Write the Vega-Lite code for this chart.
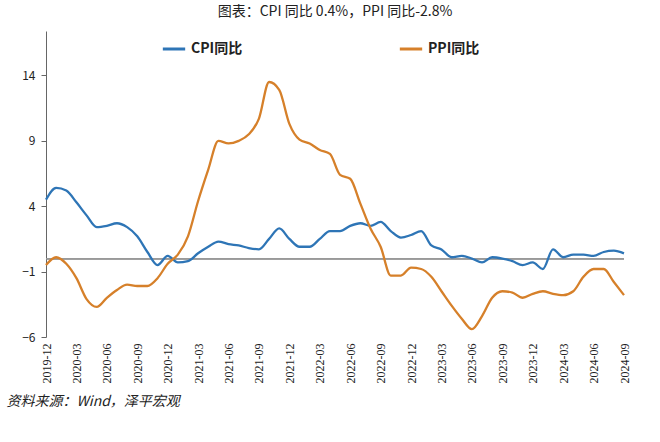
{
  "$schema": "https://vega.github.io/schema/vega-lite/v6.json",
  "width": 578,
  "height": 306,
  "padding": {"left": 6, "top": 5, "right": 20, "bottom": 5},
  "title": {"text": "图表：CPI 同比 0.4%，PPI 同比-2.8%", "font": "Noto Sans CJK SC", "fontSize": 14, "fontWeight": "normal", "color": "#222", "offset": 12},
  "config": {"view": {"stroke": null}, "font": "Noto Sans CJK SC"},
  "data": {"values": [
    {"m":"2019-12","CPI同比":4.5,"PPI同比":-0.5},
    {"m":"2020-01","CPI同比":5.4,"PPI同比":0.1},
    {"m":"2020-02","CPI同比":5.2,"PPI同比":-0.4},
    {"m":"2020-03","CPI同比":4.3,"PPI同比":-1.5},
    {"m":"2020-04","CPI同比":3.3,"PPI同比":-3.1},
    {"m":"2020-05","CPI同比":2.4,"PPI同比":-3.7},
    {"m":"2020-06","CPI同比":2.5,"PPI同比":-3.0},
    {"m":"2020-07","CPI同比":2.7,"PPI同比":-2.4},
    {"m":"2020-08","CPI同比":2.4,"PPI同比":-2.0},
    {"m":"2020-09","CPI同比":1.7,"PPI同比":-2.1},
    {"m":"2020-10","CPI同比":0.5,"PPI同比":-2.1},
    {"m":"2020-11","CPI同比":-0.5,"PPI同比":-1.5},
    {"m":"2020-12","CPI同比":0.2,"PPI同比":-0.4},
    {"m":"2021-01","CPI同比":-0.3,"PPI同比":0.3},
    {"m":"2021-02","CPI同比":-0.2,"PPI同比":1.7},
    {"m":"2021-03","CPI同比":0.4,"PPI同比":4.4},
    {"m":"2021-04","CPI同比":0.9,"PPI同比":6.8},
    {"m":"2021-05","CPI同比":1.3,"PPI同比":9.0},
    {"m":"2021-06","CPI同比":1.1,"PPI同比":8.8},
    {"m":"2021-07","CPI同比":1.0,"PPI同比":9.0},
    {"m":"2021-08","CPI同比":0.8,"PPI同比":9.5},
    {"m":"2021-09","CPI同比":0.7,"PPI同比":10.7},
    {"m":"2021-10","CPI同比":1.5,"PPI同比":13.5},
    {"m":"2021-11","CPI同比":2.3,"PPI同比":12.9},
    {"m":"2021-12","CPI同比":1.5,"PPI同比":10.3},
    {"m":"2022-01","CPI同比":0.9,"PPI同比":9.1},
    {"m":"2022-02","CPI同比":0.9,"PPI同比":8.8},
    {"m":"2022-03","CPI同比":1.5,"PPI同比":8.3},
    {"m":"2022-04","CPI同比":2.1,"PPI同比":8.0},
    {"m":"2022-05","CPI同比":2.1,"PPI同比":6.4},
    {"m":"2022-06","CPI同比":2.5,"PPI同比":6.1},
    {"m":"2022-07","CPI同比":2.7,"PPI同比":4.2},
    {"m":"2022-08","CPI同比":2.5,"PPI同比":2.3},
    {"m":"2022-09","CPI同比":2.8,"PPI同比":0.9},
    {"m":"2022-10","CPI同比":2.1,"PPI同比":-1.3},
    {"m":"2022-11","CPI同比":1.6,"PPI同比":-1.3},
    {"m":"2022-12","CPI同比":1.8,"PPI同比":-0.7},
    {"m":"2023-01","CPI同比":2.1,"PPI同比":-0.8},
    {"m":"2023-02","CPI同比":1.0,"PPI同比":-1.4},
    {"m":"2023-03","CPI同比":0.7,"PPI同比":-2.5},
    {"m":"2023-04","CPI同比":0.1,"PPI同比":-3.6},
    {"m":"2023-05","CPI同比":0.2,"PPI同比":-4.6},
    {"m":"2023-06","CPI同比":0.0,"PPI同比":-5.4},
    {"m":"2023-07","CPI同比":-0.3,"PPI同比":-4.4},
    {"m":"2023-08","CPI同比":0.1,"PPI同比":-3.0},
    {"m":"2023-09","CPI同比":0.0,"PPI同比":-2.5},
    {"m":"2023-10","CPI同比":-0.2,"PPI同比":-2.6},
    {"m":"2023-11","CPI同比":-0.5,"PPI同比":-3.0},
    {"m":"2023-12","CPI同比":-0.3,"PPI同比":-2.7},
    {"m":"2024-01","CPI同比":-0.8,"PPI同比":-2.5},
    {"m":"2024-02","CPI同比":0.7,"PPI同比":-2.7},
    {"m":"2024-03","CPI同比":0.1,"PPI同比":-2.8},
    {"m":"2024-04","CPI同比":0.3,"PPI同比":-2.5},
    {"m":"2024-05","CPI同比":0.3,"PPI同比":-1.4},
    {"m":"2024-06","CPI同比":0.2,"PPI同比":-0.8},
    {"m":"2024-07","CPI同比":0.5,"PPI同比":-0.8},
    {"m":"2024-08","CPI同比":0.6,"PPI同比":-1.8},
    {"m":"2024-09","CPI同比":0.4,"PPI同比":-2.8}
  ]},
  "layer": [
    {
      "mark": {"type": "rule", "color": "#999", "strokeWidth": 1},
      "encoding": {"y": {"datum": 0, "type": "quantitative"}}
    },
    {
      "transform": [{"fold": ["CPI同比", "PPI同比"], "as": ["series", "v"]}],
      "mark": {"type": "line", "strokeWidth": 2.3, "interpolate": "monotone"},
      "encoding": {
        "x": {
          "field": "m", "type": "ordinal", "sort": null,
          "scale": {"type": "point", "padding": 0},
          "axis": {
            "domain": false, "ticks": false, "labelAngle": -90, "labelFontSize": 12, "labelColor": "#222",
            "labelFont": "Liberation Serif",
            "labelExpr": "(indexof(['12','03','06','09'], substring(datum.value,5,7)) >= 0) ? datum.value : ''",
            "labelPadding": 6,
            "title": "资料来源：Wind，泽平宏观", "titleFontStyle": "italic", "titleFontWeight": "normal",
            "titleFontSize": 14, "titleColor": "#222", "titleAnchor": "start", "titleX": -40, "titlePadding": 12
          }
        },
        "y": {
          "field": "v", "type": "quantitative",
          "scale": {"domain": [-6, 17.4], "nice": false},
          "axis": {
            "values": [-6, -1, 4, 9, 14], "grid": false, "title": null, "domainColor": "#666", "tickColor": "#666",
            "labelFontSize": 12, "labelColor": "#222", "labelPadding": 6
          }
        },
        "color": {
          "field": "series", "type": "nominal",
          "scale": {"domain": ["CPI同比", "PPI同比"], "range": ["#2e75b6", "#d6802a"]},
          "legend": {
            "orient": "none", "legendX": 115, "legendY": 5, "direction": "horizontal", "title": null,
            "symbolType": "stroke", "symbolStrokeWidth": 3, "symbolSize": 500, "columnPadding": 150,
            "labelFontSize": 14, "labelFontWeight": "bold", "labelColor": "#222"
          }
        }
      }
    }
  ]
}
